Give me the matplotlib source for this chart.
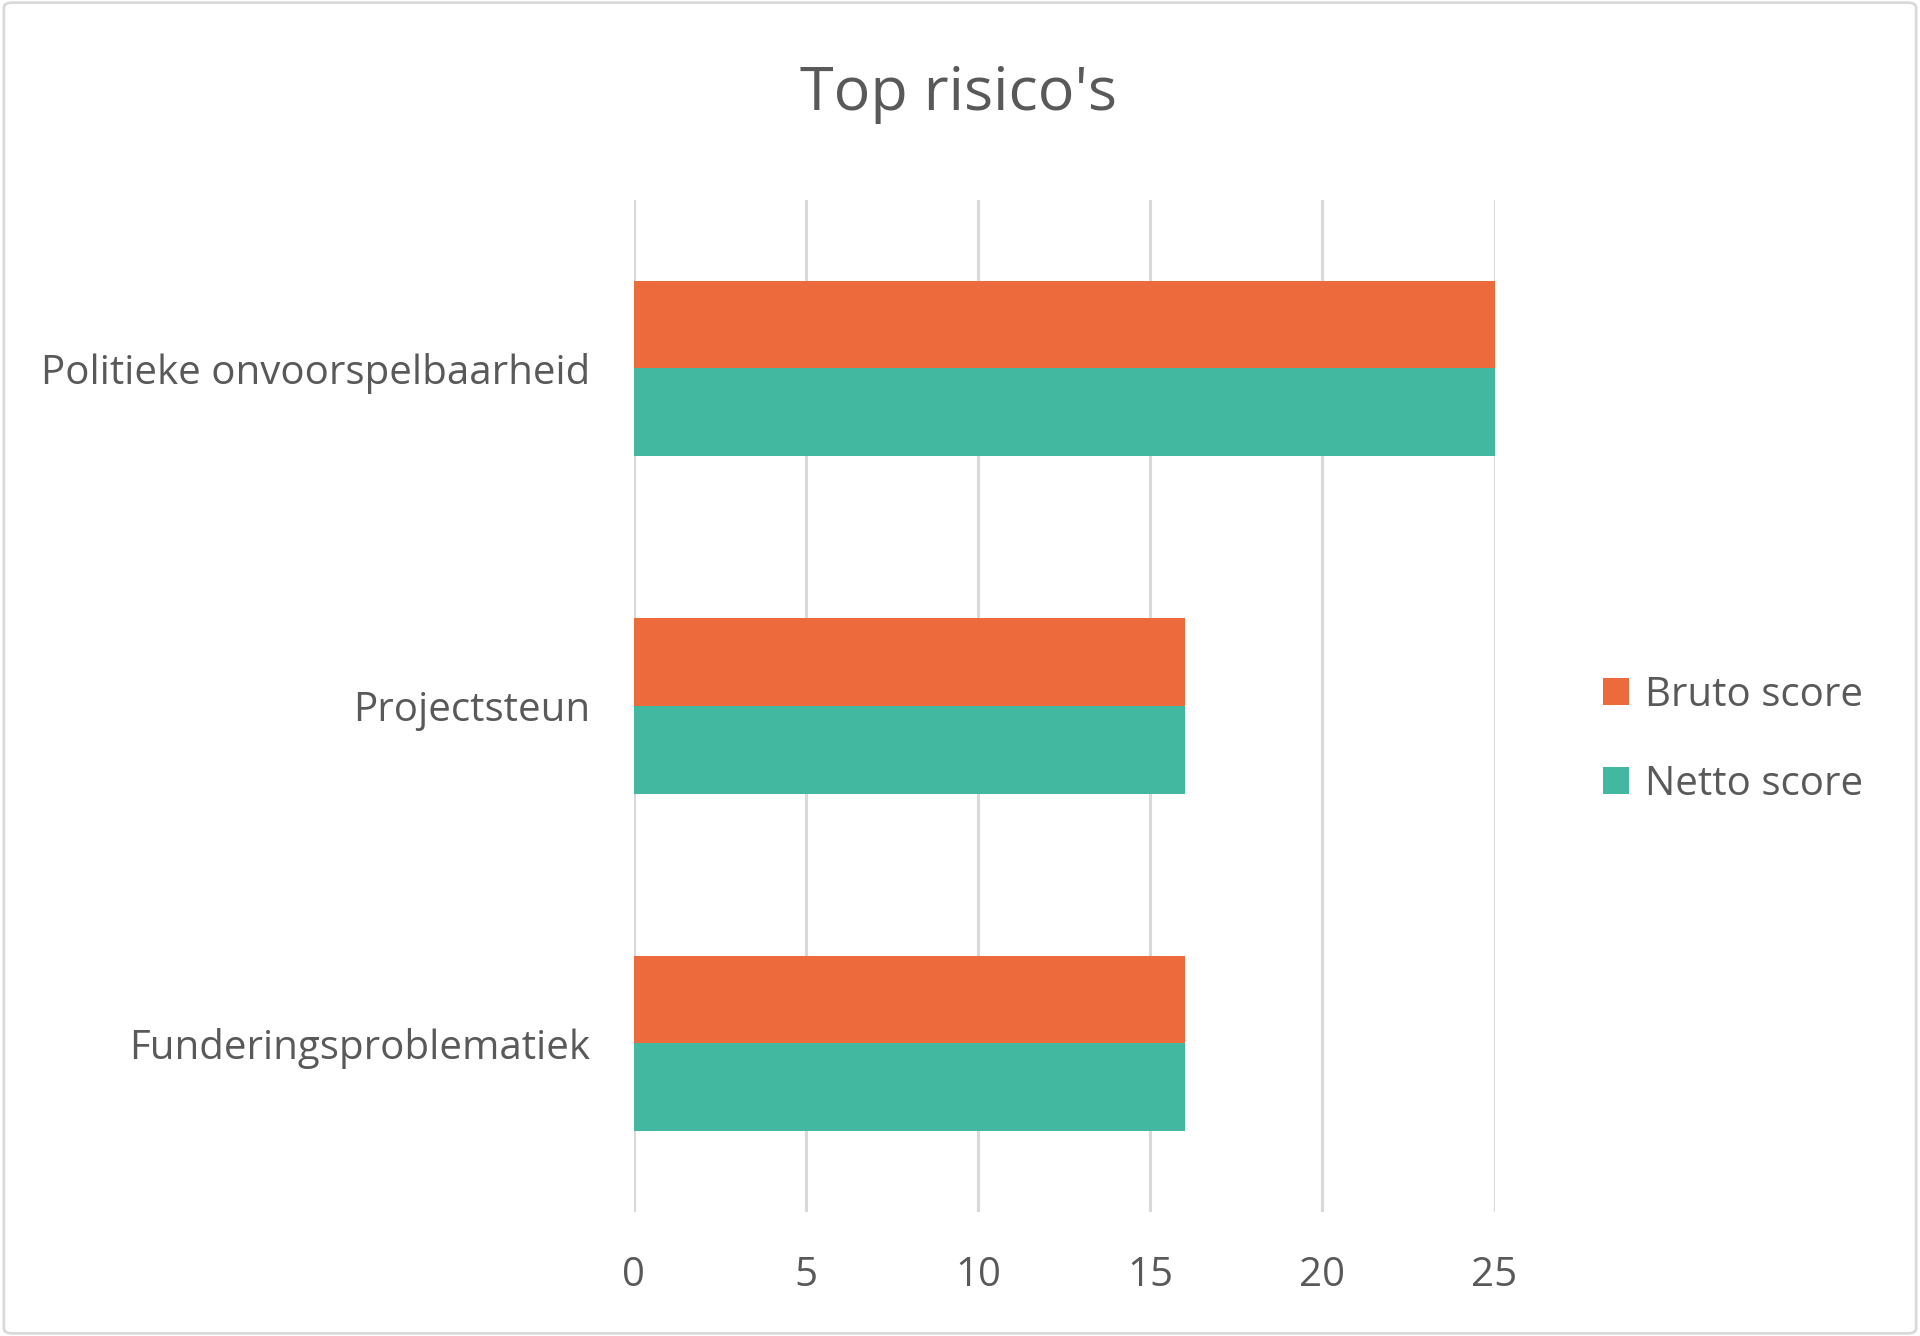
import numpy as np
import matplotlib.pyplot as plt
from matplotlib.patches import FancyBboxPatch

categories = ['Politieke onvoorspelbaarheid', 'Projectsteun', 'Funderingsproblematiek']
bruto = [25, 16, 16]
netto = [25, 16, 16]
series_names = ['Bruto score', 'Netto score']
colors = ['#EC6A3C', '#42B8A0']
xticks = [0, 5, 10, 15, 20, 25]

plt.rcParams['font.family'] = ['Open Sans', 'DejaVu Sans']
text_col = '#595959'

fig = plt.figure(figsize=(19.2, 13.36), dpi=100)
ax = fig.add_axes([0.330, 0.0928, 0.4484, 0.7578])

# categories from top to bottom
y = np.arange(len(categories))[::-1]
h = 0.26
ax.barh(y + h / 2, bruto, height=h, color=colors[0], label=series_names[0], zorder=3)
ax.barh(y - h / 2, netto, height=h, color=colors[1], label=series_names[1], zorder=3)

ax.set_xlim(0, 25)
ax.set_ylim(-0.5, len(categories) - 0.5)
ax.set_xticks(xticks)
ax.set_yticks(y)
ax.set_yticklabels(categories)
ax.grid(axis='x', color='#D9D9D9', linewidth=2.2, zorder=0)
for s in ax.spines.values():
    s.set_visible(False)
ax.tick_params(axis='both', length=0, colors=text_col, labelsize=29)
ax.tick_params(axis='y', pad=31)
ax.tick_params(axis='x', pad=31)

fig.text(0.499, 0.9295, "Top risico's", ha='center', va='center', fontsize=44, color=text_col)

leg = fig.legend(loc='center left', bbox_to_anchor=(0.816, 0.446), frameon=False,
                 fontsize=29, labelcolor=text_col, handlelength=0.65, handleheight=0.65,
                 handletextpad=0.4, labelspacing=1.2)

border = FancyBboxPatch((0.002, 0.002), 0.996, 0.996, boxstyle='round,pad=0,rounding_size=0.004',
                        transform=fig.transFigure, fill=False, edgecolor='#D9D9D9', linewidth=2)
fig.patches.append(border)

fig.savefig('out.png', dpi=100, facecolor='white')
